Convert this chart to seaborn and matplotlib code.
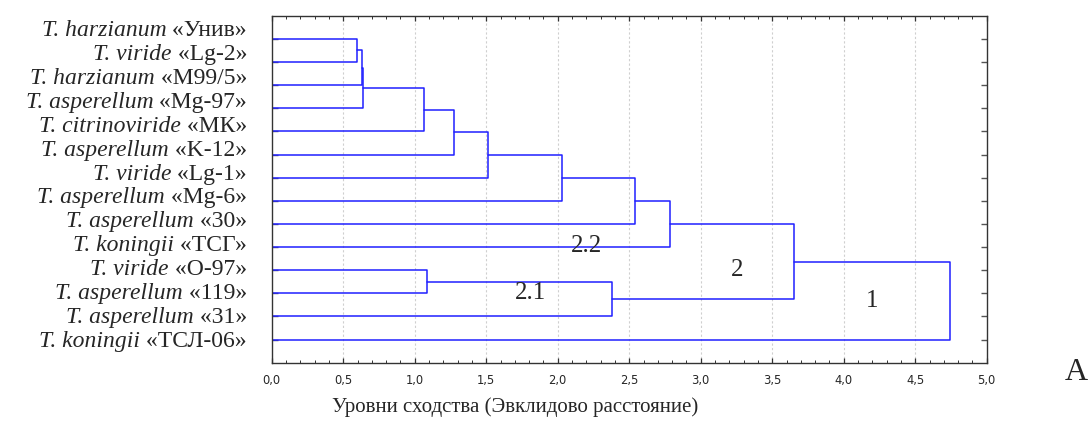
import matplotlib
matplotlib.use("Agg")
import matplotlib.pyplot as plt
from matplotlib.ticker import MultipleLocator, FixedLocator
import numpy as np
import pandas as pd
import seaborn as sns

# ---------------- data ----------------
species = ["T. harzianum", "T. viride", "T. harzianum", "T. asperellum",
           "T. citrinoviride", "T. asperellum", "T. viride", "T. asperellum",
           "T. asperellum", "T. koningii", "T. viride", "T. asperellum",
           "T. asperellum", "T. koningii"]
strains = ["«Унив»", "«Lg-2»", "«M99/5»", "«Mg-97»", "«МК»", "«K-12»",
           "«Lg-1»", "«Mg-6»", "«30»", "«ТСГ»", "«O-97»", "«119»",
           "«31»", "«ТСЛ-06»"]
# merges: (child a, child b, linkage distance); leaves are 0..13, new nodes 14..
merge_a = [0, 14, 15, 16, 17, 18, 19, 20, 21, 10, 23, 22, 25]
merge_b = [1, 2, 3, 4, 5, 6, 7, 8, 9, 11, 12, 24, 13]
merge_h = [0.594, 0.629, 0.636, 1.067, 1.273, 1.510, 2.032, 2.541, 2.786,
           1.084, 2.378, 3.655, 4.744]
cluster_names = ["2.2", "2.1", "2", "1"]
xtick_vals = [0.0, 0.5, 1.0, 1.5, 2.0, 2.5, 3.0, 3.5, 4.0, 4.5, 5.0]
xlabel = "Уровни сходства (Эвклидово расстояние)"
panel = "А"

# ------------- dendrogram geometry from the merges -------------
n_leaves = len(species)
node_y = {i: i + 1 for i in range(n_leaves)}
node_h = {i: 0.0 for i in range(n_leaves)}
rows = []
for k, (a, b, h) in enumerate(zip(merge_a, merge_b, merge_h)):
    nid = n_leaves + k
    pts = [(node_h[a], node_y[a]), (h, node_y[a]), (h, node_y[b]), (node_h[b], node_y[b])]
    for order, (x, y) in enumerate(pts):
        rows.append({"link": k, "order": order, "dist": x, "leaf": y})
    node_y[nid] = (node_y[a] + node_y[b]) / 2
    node_h[nid] = h
df = pd.DataFrame(rows)

# ---------------- figure ----------------
sns.set_style("white")
plt.rcParams["font.family"] = ["Liberation Serif", "DejaVu Serif"]

W, H = 1091, 430
fig = plt.figure(figsize=(W / 100, H / 100), dpi=100)
ax_l, ax_r, ax_t, ax_b = 271.7, 986.7, 15.7, 362.7
ax = fig.add_axes([ax_l / W, 1 - ax_b / H, (ax_r - ax_l) / W, (ax_b - ax_t) / H])

sns.lineplot(data=df, x="dist", y="leaf", units="link", estimator=None,
             sort=False, color="#1f1fff", linewidth=1.1, ax=ax, legend=False)

ax.set_xlim(0, 5)
ax.set_ylim(n_leaves + 1, 0)
ax.set_xlabel("")
ax.set_ylabel("")

# grid
for gx in xtick_vals[1:-1]:
    ax.axvline(gx, color="#cfcfcf", lw=0.8, ls=(0, (2, 2)), zorder=0)

ax.xaxis.set_major_locator(FixedLocator(xtick_vals))
ax.xaxis.set_minor_locator(MultipleLocator(0.1))
ax.set_xticklabels([f"{v:.1f}".replace(".", ",") for v in xtick_vals],
                   fontfamily="DejaVu Sans", fontsize=8.3)
ax.yaxis.set_major_locator(FixedLocator(list(range(1, n_leaves + 1))))
ax.set_yticklabels([])
ax.tick_params(axis="x", which="major", direction="in", top=True, bottom=True,
               length=3.5, width=0.9, pad=8, color="#333333")
ax.tick_params(axis="x", which="minor", direction="in", top=True, bottom=True,
               length=2, width=0.7, color="#333333")
ax.tick_params(axis="y", which="major", direction="in", left=True, right=True,
               length=4, width=1.0, color="#555555")
for s in ax.spines.values():
    s.set_visible(True)
    s.set_color("#333333")
    s.set_linewidth(1.0)

# leaf labels: italic species + roman strain, right aligned
fig.canvas.draw()
renderer = fig.canvas.get_renderer()
x_right = 247 / W
base0, step = 36.5, 23.85
lab_fs = 17
for i, (sp, st) in enumerate(zip(species, strains)):
    yb = 1 - (base0 + i * step) / H
    t2 = fig.text(x_right, yb, " " + st, ha="right", va="baseline", fontsize=lab_fs)
    wpx = t2.get_window_extent(renderer).width
    fig.text(x_right - wpx / W, yb, sp, ha="right", va="baseline",
             fontsize=lab_fs, style="italic")

# cluster labels
lab_pos = [(587, 252), (531, 299), (737, 276), (872, 307)]
for name, (px, py) in zip(cluster_names, lab_pos):
    fig.text(px / W, 1 - py / H, name, ha="center", va="baseline", fontsize=18)

fig.text(515 / W, 1 - 412 / H, xlabel, ha="center", va="baseline", fontsize=15)
fig.text(1076 / W, 1 - 380 / H, panel, ha="center", va="baseline", fontsize=23)

fig.savefig("out.png", dpi=100)
